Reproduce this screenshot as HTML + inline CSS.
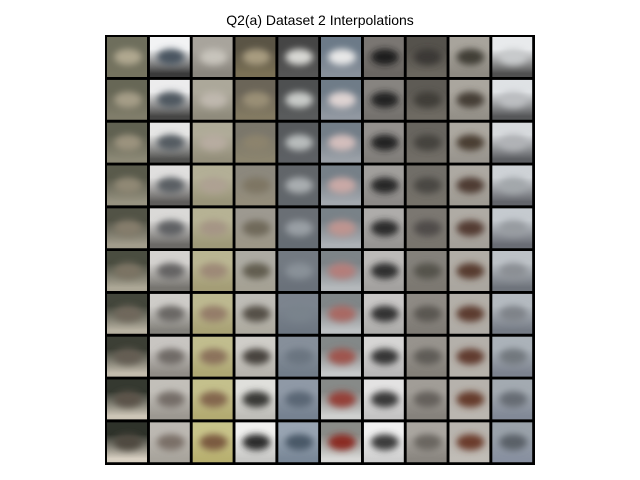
<!DOCTYPE html>
<html><head><meta charset="utf-8"><style>
html,body{margin:0;padding:0;background:#fff;}
#t{position:absolute;left:0;top:12px;width:640px;text-align:center;font:14px "Liberation Sans","DejaVu Sans",sans-serif;color:#000;}
svg{position:absolute;left:0;top:0;}
</style></head><body>
<div id="t">Q2(a) Dataset 2 Interpolations</div>
<svg id="s" width="640" height="480">
<defs><filter id="b" x="-50%" y="-50%" width="200%" height="200%"><feGaussianBlur stdDeviation="3.5"/></filter>
<clipPath id="c"><rect x="0" y="0" width="40" height="40"/></clipPath></defs>
<rect x="105" y="35" width="430" height="430" fill="#000"/>
<g id="g"></g>
</svg>
<script>
// per column: [topBg, bottomBg, blob] for first row and last row
const topRow = [
 ['#6e6e5c','#75735f','#b0a890'],['#f2f3f4','#3a3a3a','#4a5560'],['#a8a49c','#8a867e','#c8c4bc'],
 ['#5a5445','#7a7055','#a89c80'],['#454545','#555555','#d8d8d4'],['#6c7a88','#88909a','#e8e8e8'],
 ['#7a7672','#6a6662','#1e1e1e'],['#55524c','#6a665e','#3a3834'],['#a8a49c','#8e8a82','#403c36'],
 ['#e8eaec','#505050','#c8cacc']];
const botRow = [
 ['#2e322a','#d8d0c2','#504840'],['#bcb8b2','#a8a49c','#7a7068'],['#c8c48a','#b8b070','#7a5a40'],
 ['#f0f0ee','#c8c8c6','#2a2a2a'],['#98a4b2','#7a8898','#4a5868'],['#8a8c88','#d8d8d6','#8a2a22'],
 ['#f0f0f0','#d0d0d0','#3a3a3a'],['#aaa6a0','#8a8680','#6a6660'],['#b8b4ae','#c0bcb6','#6a3a2a'],
 ['#9aa2aa','#8890a0','#5a6068']];
function mix(a,b,t){const p=x=>[1,3,5].map(i=>parseInt(x.substr(i,2),16));const A=p(a),B=p(b);
 return 'rgb('+A.map((v,i)=>Math.round(v+(B[i]-v)*t)).join(',')+')';}
const g=document.getElementById('g');const NS='http://www.w3.org/2000/svg';
const x0=107,y0=37,pitch=42.8,sz=40.5;
for(let r=0;r<10;r++)for(let c=0;c<10;c++){
 const t=r/9;const bg1=mix(topRow[c][0],botRow[c][0],t),bg2=mix(topRow[c][1],botRow[c][1],t),bl=mix(topRow[c][2],botRow[c][2],t);
 const cell=document.createElementNS(NS,'g');
 
 
 cell.setAttribute('transform','translate('+(x0+c*pitch)+','+(y0+r*pitch)+')');
 const gid='lg'+r+'_'+c;
 cell.innerHTML='<defs><linearGradient id="'+gid+'" x1="0" y1="0" x2="0" y2="1"><stop offset="0.3" stop-color="'+bg1+'"/><stop offset="0.9" stop-color="'+bg2+'"/></linearGradient></defs>'+
 '<g clip-path="url(#c)"><rect width="'+sz+'" height="'+sz+'" fill="url(#'+gid+')"/>'+
 '<ellipse cx="21" cy="20" rx="14" ry="8" fill="'+bl+'" filter="url(#b)"/></g>';
 g.appendChild(cell);
}
</script>
</body></html>
